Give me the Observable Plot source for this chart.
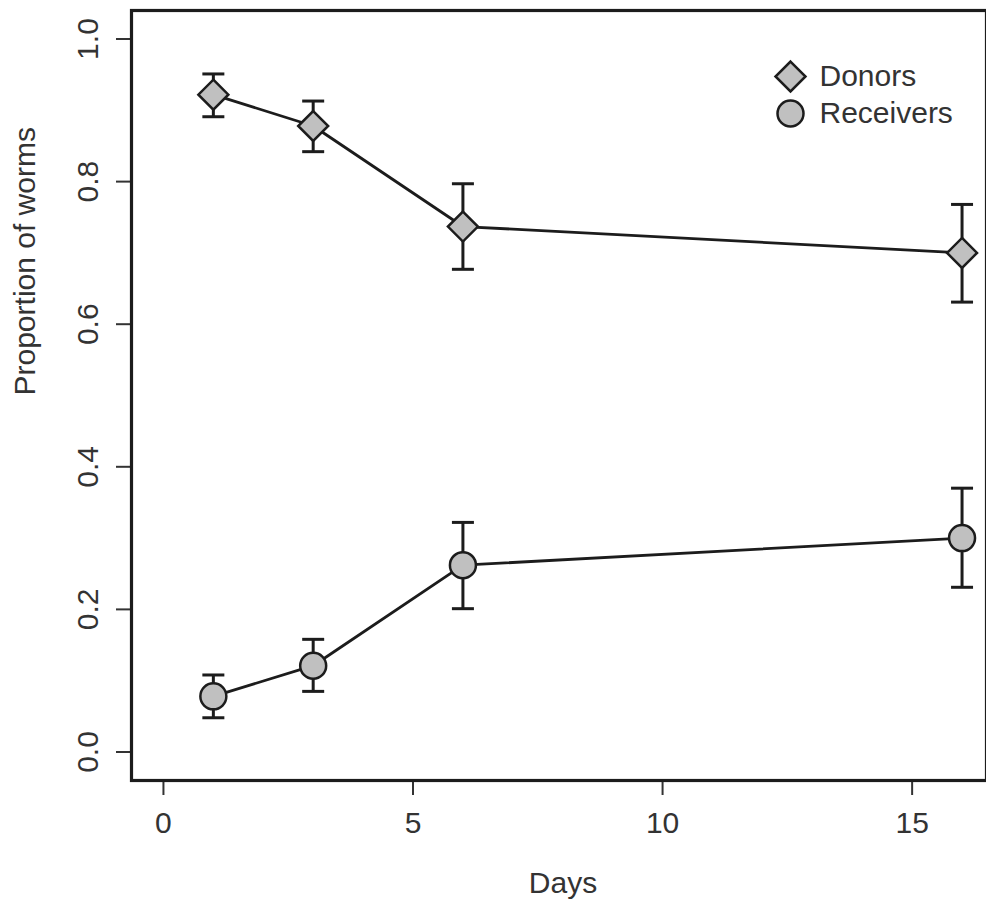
<!DOCTYPE html>
<html>
<head>
<meta charset="utf-8">
<script src="https://cdn.jsdelivr.net/npm/d3@7"></script>
<script src="https://cdn.jsdelivr.net/npm/@observablehq/plot@0.6"></script>
<style>
  body { margin: 0; background: #fff; }
</style>
</head>
<body>
<div id="chart"></div>
<script>
// Days of sampling
const days = [1, 3, 6, 16];

// Proportion of worms: means with lower/upper error limits
const donorMean = [0.922, 0.878, 0.737, 0.700];
const donorLo   = [0.891, 0.842, 0.677, 0.631];
const donorHi   = [0.951, 0.913, 0.797, 0.768];

const receiverMean = [0.078, 0.121, 0.262, 0.300];
const receiverLo   = [0.048, 0.085, 0.201, 0.231];
const receiverHi   = [0.108, 0.158, 0.322, 0.370];

const groups = ["Donors", "Receivers"];
const groupSymbols = ["diamond2", "circle"];

const xTicks = [0, 5, 10, 15];
const yTicks = [0, 0.2, 0.4, 0.6, 0.8, 1.0];

const rows = days.flatMap((day, i) => [
  {group: "Donors", day, mean: donorMean[i], lo: donorLo[i], hi: donorHi[i]},
  {group: "Receivers", day, mean: receiverMean[i], lo: receiverLo[i], hi: receiverHi[i]}
]);

const ink = "#1c1c1c";
const fillGrey = "#c0c0c0";

// Horizontal cap for the error bars (half-width equals r)
const capSymbol = {
  draw(context, size) {
    const w = Math.sqrt(size / Math.PI);
    context.moveTo(-w, 0);
    context.lineTo(w, 0);
  }
};

const legendMarks = groups.flatMap((g, i) => [
  Plot.dot([g], {
    frameAnchor: "top-right", dx: -196, dy: 66 + i * 37,
    symbol: groupSymbols[i], r: groupSymbols[i] === "circle" ? 13 : 13.5,
    fill: fillGrey, stroke: ink, strokeWidth: 2.5
  }),
  Plot.text([g], {
    frameAnchor: "top-right", dx: -167, dy: 66 + i * 37,
    text: d => d, textAnchor: "start", lineAnchor: "middle",
    fontSize: 30, fill: "#333"
  })
]);

const chart = Plot.plot({
  width: 986,
  height: 907,
  marginLeft: 131,
  marginRight: 0,
  marginTop: 10,
  marginBottom: 127,
  style: {
    fontFamily: "'Liberation Sans', Arial, Helvetica, sans-serif",
    fontSize: "30px",
    color: "#333",
    background: "#fff"
  },
  x: {domain: [-0.64, 16.49]},
  y: {domain: [-0.04, 1.04]},
  marks: [
    Plot.axisX({
      ticks: xTicks, tickSize: 15, tickPadding: 16, tickFormat: d => String(d),
      fontSize: 30, strokeWidth: 2, label: null
    }),
    Plot.axisY({
      ticks: yTicks, tickSize: 15, tickPadding: 19, tickRotate: -90,
      tickFormat: d3.format(".1f"), fontSize: 30, strokeWidth: 2, label: null
    }),
    Plot.text(["Days"], {
      frameAnchor: "bottom", dx: 4, dy: 103, text: d => d,
      lineAnchor: "middle", fontSize: 30, fill: "#333"
    }),
    Plot.text(["Proportion of worms"], {
      frameAnchor: "left", dx: -106, rotate: -90, text: d => d,
      lineAnchor: "middle", fontSize: 30, fill: "#333"
    }),
    Plot.line(rows, {x: "day", y: "mean", z: "group", stroke: ink, strokeWidth: 2.8}),
    Plot.ruleX(rows, {x: "day", y1: "lo", y2: "hi", stroke: ink, strokeWidth: 3}),
    Plot.dot(rows, {x: "day", y: "lo", symbol: capSymbol, r: 11, fill: "none", stroke: ink, strokeWidth: 3}),
    Plot.dot(rows, {x: "day", y: "hi", symbol: capSymbol, r: 11, fill: "none", stroke: ink, strokeWidth: 3}),
    Plot.dot(rows.filter(d => d.group === "Donors"), {
      x: "day", y: "mean", symbol: "diamond2", r: 13.5,
      fill: fillGrey, stroke: ink, strokeWidth: 2.5
    }),
    Plot.dot(rows.filter(d => d.group === "Receivers"), {
      x: "day", y: "mean", symbol: "circle", r: 13,
      fill: fillGrey, stroke: ink, strokeWidth: 2.5
    }),
    ...legendMarks,
    Plot.frame({stroke: ink, strokeWidth: 3.2})
  ]
});

document.getElementById("chart").appendChild(chart);
</script>
</body>
</html>
